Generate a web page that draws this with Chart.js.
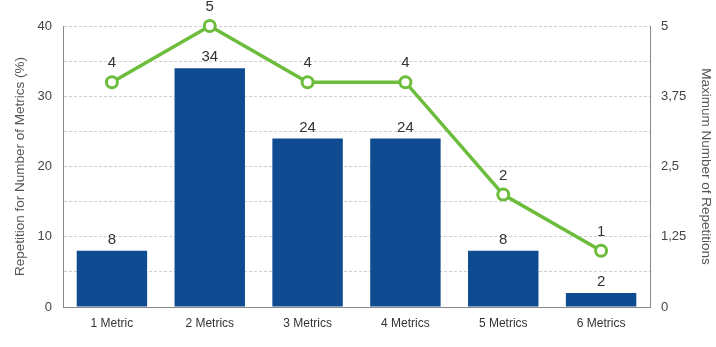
<!DOCTYPE html>
<html><head><meta charset="utf-8">
<script src="https://cdn.jsdelivr.net/npm/chart.js@4"></script>
<style>html,body{margin:0;padding:0;background:#fff}#wrap{width:716px;height:347px}</style>
</head><body><div id="wrap"><canvas id="c" width="716" height="347"></canvas></div>
<script>
const categories = ['1 Metric','2 Metrics','3 Metrics','4 Metrics','5 Metrics','6 Metrics'];
const repetitionPct = [8, 34, 24, 24, 8, 2];
const maxRepetitions = [4, 5, 4, 4, 2, 1];
const leftTicks = [0, 10, 20, 30, 40];
const rightTicks = ['0', '1,25', '2,5', '3,75', '5'];

const FONT = '"Liberation Sans", Arial, Helvetica, sans-serif';

const labelPlugin = {
  id: 'valueLabels',
  afterDatasetsDraw(chart) {
    const ctx = chart.ctx;
    ctx.save();
    ctx.fillStyle = '#333';
    ctx.textAlign = 'center';
    ctx.textBaseline = 'middle';
    ctx.font = '15px ' + FONT;
    chart.data.datasets.forEach((ds, di) => {
      const meta = chart.getDatasetMeta(di);
      meta.data.forEach((el, i) => {
        const off = ds.type === 'line' ? 19 : 11;
        ctx.fillText(String(ds.data[i]), el.x, el.y - off);
      });
    });
    ctx.restore();
  }
};

new Chart(document.getElementById('c'), {
  data: {
    labels: categories,
    datasets: [
      {
        type: 'line',
        data: maxRepetitions,
        yAxisID: 'y2',
        borderColor: '#6cbd3c',
        borderWidth: 3.5,
        pointBackgroundColor: '#ffffff',
        pointBorderColor: '#6cbd3c',
        pointBorderWidth: 3,
        pointRadius: 5.5,
        tension: 0,
        clip: false,
        order: 0
      },
      {
        type: 'bar',
        data: repetitionPct,
        yAxisID: 'y',
        backgroundColor: '#0e4b90',
        barPercentage: 0.72,
        categoryPercentage: 1,
        order: 1
      }
    ]
  },
  options: {
    responsive: false,
    animation: false,
    devicePixelRatio: 1,
    layout: { padding: { top: 26, left: 0, right: 0, bottom: 0 } },
    plugins: { legend: { display: false }, tooltip: { enabled: false } },
    scales: {
      x: {
        grid: { display: false, drawTicks: false },
        border: { display: true, color: '#888', width: 1 },
        ticks: { color: '#333', font: { family: FONT, size: 12 }, padding: 9, maxRotation: 0 },
        afterFit(s) { s.height = 40; }
      },
      y: {
        position: 'left',
        min: 0, max: 40,
        afterBuildTicks(s) { s.ticks = [0,5,10,15,20,25,30,35,40].map(v => ({ value: v })); },
        grid: { color: '#cfcfcf', drawTicks: false },
        border: { display: true, color: '#888', width: 1, dash: [3,2] },
        ticks: {
          autoSkip: false,
          color: '#444', font: { family: FONT, size: 13 }, padding: 11,
          callback: (v) => leftTicks.includes(v) ? String(v) : ''
        },
        title: { display: true, text: 'Repetition for Number of Metrics (%)', color: '#555', font: { family: FONT, size: 13.5 }, padding: { top: 12, bottom: 0 } },
        afterFit(s) { s.width = 63; }
      },
      y2: {
        position: 'right',
        min: 0, max: 5,
        afterBuildTicks(s) { s.ticks = [0,1.25,2.5,3.75,5].map(v => ({ value: v })); },
        grid: { display: false, drawTicks: false },
        border: { display: true, color: '#888', width: 1 },
        ticks: {
          autoSkip: false,
          color: '#444', font: { family: FONT, size: 13 }, padding: 11,
          callback: (v, i) => rightTicks[i]
        },
        title: { display: true, text: 'Maximum Number of Repetitions', color: '#555', font: { family: FONT, size: 13.5 }, padding: { top: 2, bottom: 0 } },
        afterFit(s) { s.width = 66; }
      }
    }
  },
  plugins: [labelPlugin]
});
</script>
</body></html>
